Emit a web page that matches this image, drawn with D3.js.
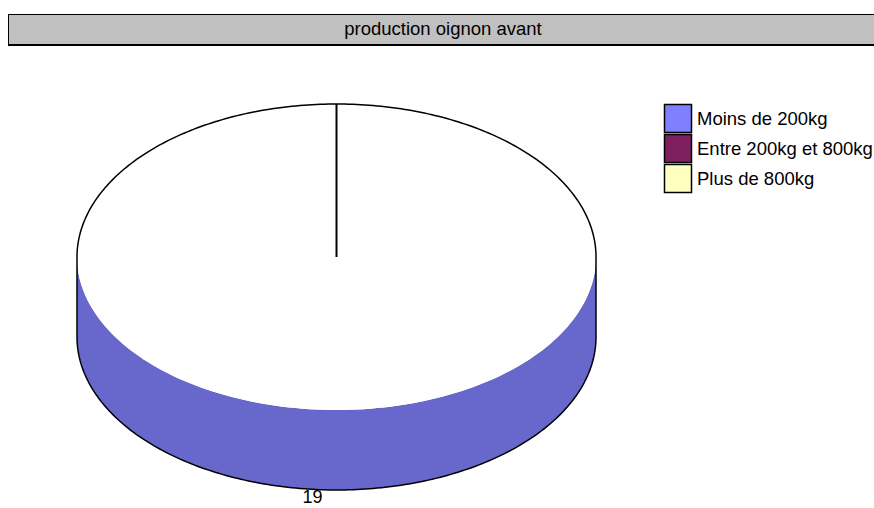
<!DOCTYPE html>
<html>
<head>
<meta charset="utf-8">
<script src="https://cdn.jsdelivr.net/npm/d3@7"></script>
<style>
  html, body { margin: 0; padding: 0; background: #fff; }
  text { font-family: "Liberation Sans", Arial, sans-serif; }
</style>
</head>
<body>
<svg id="chart" width="874" height="508"></svg>
<script>
const title = "production oignon avant";
const categories = ["Moins de 200kg", "Entre 200kg et 800kg", "Plus de 800kg"];
const values = [19, 0, 0];
const colors = ["#8080ff", "#7f1f5f", "#ffffc0"];

const svg = d3.select("#chart");

// Title bar
svg.append("rect").attr("x", 8.5).attr("y", 14.5).attr("width", 880).attr("height", 30)
  .attr("fill", "#c0c0c0").attr("stroke", "#000").attr("stroke-width", 1);
svg.append("line").attr("x1", 8).attr("x2", 880).attr("y1", 45).attr("y2", 45)
  .attr("stroke", "#000").attr("stroke-width", 2);
svg.append("text").attr("x", 443).attr("y", 35).attr("text-anchor", "middle")
  .attr("font-size", 18.5).attr("fill", "#000").text(title);

// 3D pie geometry
const cx = 336.5, cy = 257, rx = 259.5, ry = 153, depth = 80;
const pie = d3.pie().sort(null).value(d => d)(values);
const xs = a => cx + rx * Math.sin(a);
const ys = (a, dy) => cy - ry * Math.cos(a) + dy;
const shade = c => { const r = d3.rgb(c); return d3.rgb(r.r * 0.81, r.g * 0.81, r.b * 0.8); };

function ellipseArcPoints(a0, a1, dy, n) {
  const pts = [];
  for (let i = 0; i <= n; i++) {
    const a = a0 + (a1 - a0) * i / n;
    pts.push([xs(a), ys(a, dy)]);
  }
  return pts;
}
const line = d3.line();

pie.forEach((s, i) => {
  if (s.endAngle - s.startAngle <= 0) return;
  // front side: visible between PI/2 and 3PI/2
  const a0 = Math.max(s.startAngle, Math.PI / 2);
  const a1 = Math.min(s.endAngle, 3 * Math.PI / 2);
  if (a1 > a0) {
    const top = ellipseArcPoints(a0, a1, 0, 120);
    const bot = ellipseArcPoints(a1, a0, depth, 120);
    svg.append("path").attr("d", line(top.concat(bot)) + "Z")
      .attr("fill", shade(colors[i])).attr("stroke", "none");
  }
  // top face
  const topPts = [[cx, cy]].concat(ellipseArcPoints(s.startAngle, s.endAngle, 0, 240));
  svg.append("path").attr("d", line(topPts) + "Z").attr("fill", "#fff").attr("stroke", "none");
});

// outline: upper half of top ellipse + sides + lower half of bottom ellipse
const outline = ellipseArcPoints(3 * Math.PI / 2, 5 * Math.PI / 2, 0, 200)
  .concat(ellipseArcPoints(Math.PI / 2, 3 * Math.PI / 2, depth, 200));
svg.append("path").attr("d", line(outline) + "Z")
  .attr("fill", "none").attr("stroke", "#000").attr("stroke-width", 1.5);

// slice edges
pie.forEach((s, i) => {
  if (s.endAngle - s.startAngle <= 0) return;
  svg.append("line").attr("x1", cx).attr("y1", cy)
    .attr("x2", xs(s.startAngle)).attr("y2", ys(s.startAngle, 0))
    .attr("stroke", "#000").attr("stroke-width", 2);
});

// labels
pie.forEach((s, i) => {
  if (s.endAngle - s.startAngle <= 0) return;
  const m = (s.startAngle + s.endAngle) / 2;
  svg.append("text").attr("x", xs(m) - 24).attr("y", ys(m, depth) + 13)
    .attr("text-anchor", "middle").attr("font-size", 18).attr("fill", "#000")
    .text(values[i]);
});

// legend
const lg = svg.append("g");
categories.forEach((c, i) => {
  const y = 104.5 + i * 30;
  lg.append("rect").attr("x", 664.5).attr("y", y).attr("width", 27).attr("height", 28)
    .attr("fill", colors[i]).attr("stroke", "#000").attr("stroke-width", 1.5);
  lg.append("text").attr("x", 697).attr("y", y + 20).attr("font-size", 18.5)
    .attr("fill", "#000").text(c);
});
</script>
</body>
</html>
